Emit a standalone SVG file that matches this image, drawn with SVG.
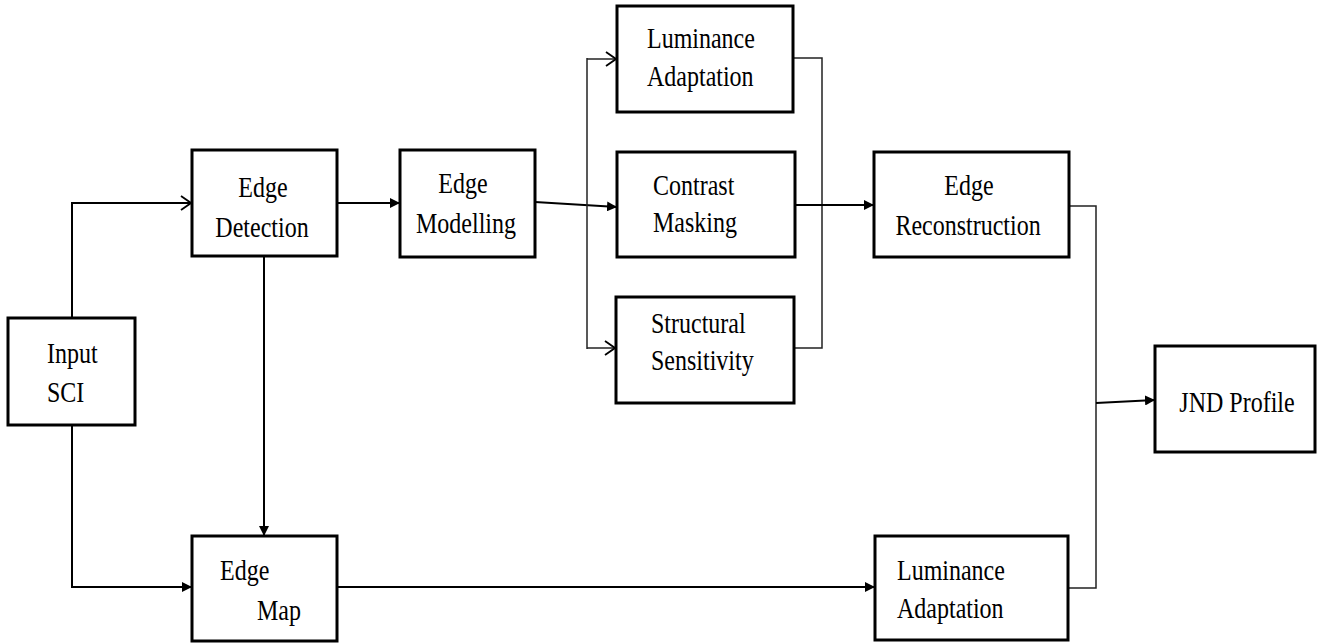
<svg xmlns="http://www.w3.org/2000/svg" width="1318" height="643" viewBox="0 0 1318 643">
<style>
.box{fill:#fff;stroke:#000;stroke-width:3}
.t{font-family:'Liberation Serif','Times New Roman',Times,serif;font-size:30px;fill:#000}
.c{fill:none;stroke:#000;stroke-width:2}
.thin{fill:none;stroke:#222;stroke-width:1.5}
</style>
<defs>
<marker id="fa" viewBox="0 0 10 10" refX="10" refY="5" markerWidth="10" markerHeight="10" markerUnits="userSpaceOnUse" orient="auto">
<path d="M0,0 L10,5 L0,10 z" fill="#000"/>
</marker>
<marker id="oa" viewBox="0 0 12 16" refX="11" refY="8" markerWidth="12" markerHeight="16" markerUnits="userSpaceOnUse" orient="auto">
<path d="M1,1 L11,8 L1,15" fill="none" stroke="#000" stroke-width="1.8"/>
</marker>
</defs>
<rect width="1318" height="643" fill="#fff"/>
<g id="connectors">
<polyline class="c" points="72,318 72,203 191,203" marker-end="url(#oa)"/>
<polyline class="c" points="72,425 72,587 192,587" marker-end="url(#fa)"/>
<line class="c" x1="337" y1="203" x2="400" y2="203" marker-end="url(#fa)"/>
<line class="c" x1="264" y1="256" x2="264" y2="536" marker-end="url(#fa)"/>
<line class="c" x1="535" y1="202" x2="617" y2="207" marker-end="url(#fa)"/>
<line class="thin" x1="587" y1="58" x2="587" y2="349"/>
<line class="thin" x1="587" y1="59" x2="616" y2="59" marker-end="url(#oa)"/>
<line class="thin" x1="587" y1="348" x2="615" y2="348" marker-end="url(#oa)"/>
<polyline class="thin" points="793,58 822,58 822,348 794,348"/>
<line class="c" x1="795" y1="205" x2="874" y2="205" marker-end="url(#fa)"/>
<polyline class="thin" points="1069,206 1096,206 1096,588 1068,588"/>
<line class="c" x1="1096" y1="403" x2="1155" y2="400" marker-end="url(#fa)"/>
<line class="c" x1="337" y1="587" x2="875" y2="587" marker-end="url(#fa)"/>
</g>
<g font-family="Liberation Serif, serif">
<g id="input-sci">
<rect class="box" x="8" y="318" width="127" height="107"/>
<text class="t" transform="matrix(0.8 0 0 1 47 363)">Input</text>
<text class="t" transform="matrix(0.8 0 0 1 47 402)">SCI</text>
</g>
<g id="edge-detection">
<rect class="box" x="192" y="150" width="145" height="106"/>
<text class="t" text-anchor="middle" transform="matrix(0.8 0 0 1 263 197)">Edge</text>
<text class="t" text-anchor="middle" transform="matrix(0.8 0 0 1 262 237)">Detection</text>
</g>
<g id="edge-modelling">
<rect class="box" x="400" y="150" width="135" height="107"/>
<text class="t" text-anchor="middle" transform="matrix(0.8 0 0 1 463 193)">Edge</text>
<text class="t" text-anchor="middle" transform="matrix(0.8 0 0 1 466 233)">Modelling</text>
</g>
<g id="luminance-adaptation-top">
<rect class="box" x="617" y="6" width="176" height="106"/>
<text class="t" transform="matrix(0.8 0 0 1 647 48)">Luminance</text>
<text class="t" transform="matrix(0.8 0 0 1 647 86)">Adaptation</text>
</g>
<g id="contrast-masking">
<rect class="box" x="617" y="152" width="178" height="105"/>
<text class="t" transform="matrix(0.8 0 0 1 653 195)">Contrast</text>
<text class="t" transform="matrix(0.8 0 0 1 653 232)">Masking</text>
</g>
<g id="structural-sensitivity">
<rect class="box" x="616" y="297" width="178" height="106"/>
<text class="t" transform="matrix(0.8 0 0 1 651 333)">Structural</text>
<text class="t" transform="matrix(0.8 0 0 1 651 370)">Sensitivity</text>
</g>
<g id="edge-reconstruction">
<rect class="box" x="874" y="152" width="195" height="105"/>
<text class="t" text-anchor="middle" transform="matrix(0.8 0 0 1 969 195)">Edge</text>
<text class="t" text-anchor="middle" transform="matrix(0.8 0 0 1 968 235)">Reconstruction</text>
</g>
<g id="jnd-profile">
<rect class="box" x="1155" y="346" width="160" height="106"/>
<text class="t" text-anchor="middle" transform="matrix(0.8 0 0 1 1237 412)">JND Profile</text>
</g>
<g id="edge-map">
<rect class="box" x="192" y="536" width="145" height="105"/>
<text class="t" transform="matrix(0.8 0 0 1 220 580)">Edge</text>
<text class="t" transform="matrix(0.8 0 0 1 257 620)">Map</text>
</g>
<g id="luminance-adaptation-bottom">
<rect class="box" x="875" y="536" width="193" height="104"/>
<text class="t" transform="matrix(0.8 0 0 1 897 580)">Luminance</text>
<text class="t" transform="matrix(0.8 0 0 1 897 618)">Adaptation</text>
</g>
</g>
</svg>
